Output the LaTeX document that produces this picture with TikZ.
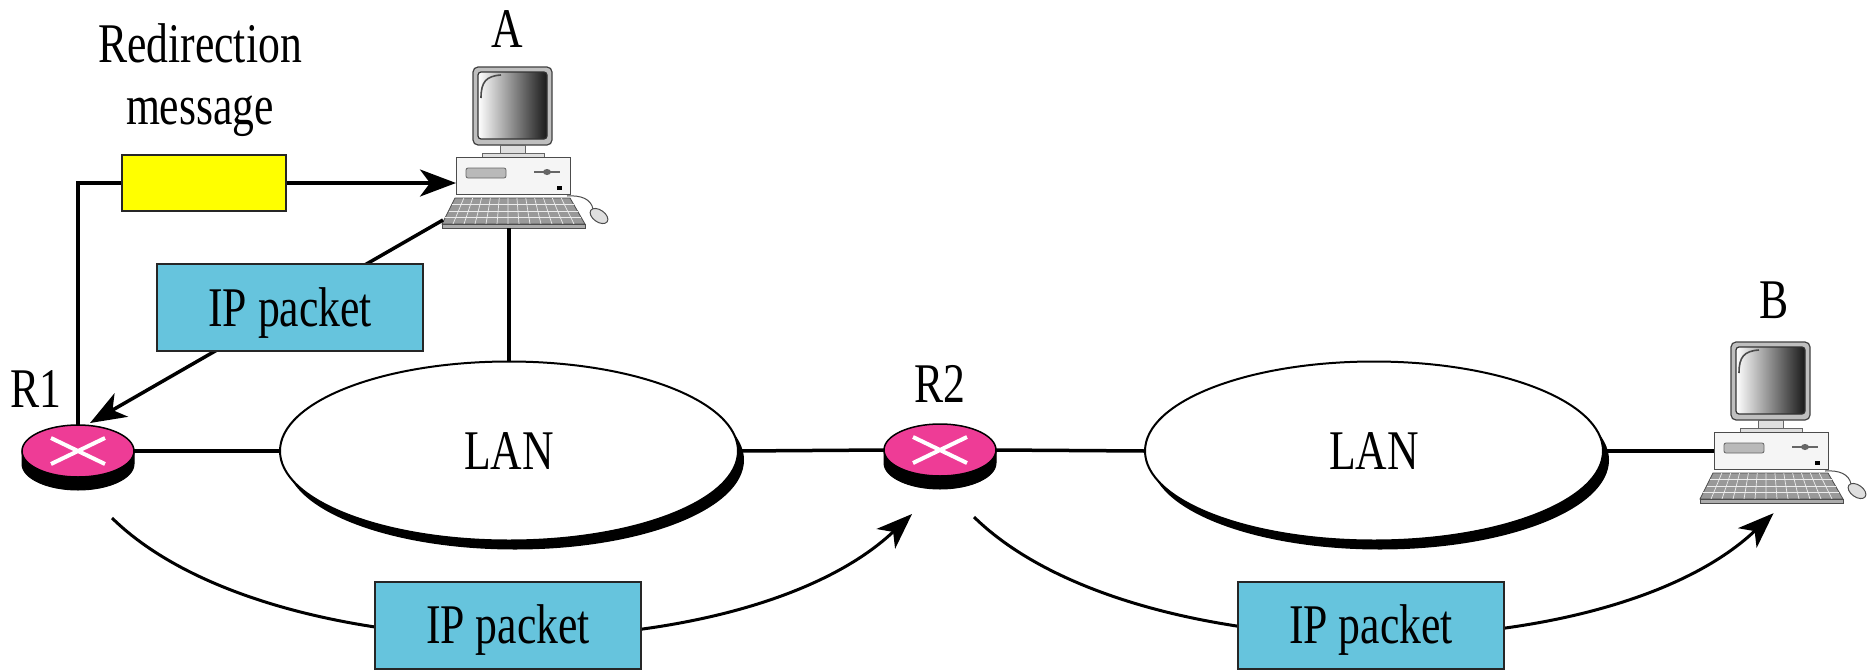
\documentclass[tikz,border=0pt]{standalone}
\usepackage{fontspec}
\setmainfont{Liberation Serif}[FakeStretch=0.78]
\usetikzlibrary{arrows.meta,calc,shapes.geometric}
\pgfdeclarelayer{bg}
\pgfsetlayers{bg,main}
\definecolor{routerpink}{HTML}{EE3C96}
\definecolor{packetblue}{HTML}{66C4DD}
\definecolor{msgyellow}{HTML}{FFFF00}

\tikzset{
  conn/.style={line width=3.5pt},
  flow/.style={line width=3pt},
  >={Stealth[length=36pt,width=27pt,inset=10pt]},
  rtr/.style={ellipse, minimum width=112pt, minimum height=52pt, inner sep=0pt,
    outer sep=0pt, fill=routerpink, draw=black, line width=1.5pt},
  lan/.style={ellipse, minimum width=458pt, minimum height=179pt, inner sep=0pt,
    outer sep=0pt, fill=white, draw=black, line width=2pt, text height=37pt, text depth=0pt,
    preaction={fill=black, transform canvas={shift={(6pt,-9pt)}}}},
  ipbox/.style={rectangle, minimum width=266pt, minimum height=87pt, inner sep=0pt,
    fill=packetblue, draw=black!85, line width=2pt, text height=37pt, text depth=0pt},
  msgbox/.style={rectangle, minimum width=164pt, minimum height=56pt, inner sep=0pt,
    fill=msgyellow, draw=black!85, line width=2pt},
  lbl/.style={inner sep=0pt},
  pcunit/.style={rectangle, minimum width=114pt, minimum height=37pt, inner sep=0pt,
    outer sep=0pt, fill=gray!8, draw=black!70, line width=1pt},
  computer/.pic={
    % monitor housing and screen
    \draw[fill=gray!50, draw=black!75, line width=1.2pt, rounded corners=5pt] (-40,-109) rectangle (39,-31);
    \shade[left color=white, middle color=gray!45, right color=black!90, rounded corners=3pt] (-35,-104) rectangle (34,-37);
    \draw[black!80, line width=1.2pt, rounded corners=3pt] (-35,-104) rectangle (34,-37);
    \draw[black!70, line width=1.6pt] (-32,-78) .. controls (-32,-94) and (-27,-100) .. (-12,-101);
    % neck and foot
    \draw[fill=gray!25, draw=black!60, line width=0.8pt] (-13,-31) rectangle (12,-22);
    \draw[fill=gray!25, draw=black!60, line width=0.8pt] (-31,-23) rectangle (31,-18);
    % system unit
    \node[pcunit] (-base) at (0,0) {};
    \draw[fill=gray!55, draw=black!60, line width=0.8pt, rounded corners=2pt] (-47,-8) rectangle (-7,2);
    \draw[black!60, line width=1.2pt] (21,-4) -- (47,-4);
    \fill[black!60] (34,-4) ellipse [x radius=4, y radius=3];
    \fill[black] (44,10) rectangle (49,14);
    % keyboard
    \draw[fill=gray!80, draw=black!70, line width=0.8pt] (-58,22) -- (57,22) -- (72,48) -- (-71,48) -- cycle;
    \foreach \k in {1,...,12}
      \draw[gray!15, line width=0.7pt] ({-58+\k*115/13},22) -- ({-71+\k*143/13},48);
    \foreach \t in {0.25,0.5,0.75}
      \draw[gray!15, line width=0.7pt] ({-58-13*\t},{22+26*\t}) -- ({57+15*\t},{22+26*\t});
    \draw[fill=gray!65, draw=black!70, line width=0.8pt] (-71,48) rectangle (72,52);
    \node[inner sep=0pt, minimum width=143pt, minimum height=30pt] (-kbd) at (0.5,37) {};
    \coordinate (-kl) at (-70,44);
    % mouse and cable
    \draw[black!70, line width=1pt] (54,20) .. controls (68,19) and (78,23) .. (80,33);
    \draw[fill=gray!25, draw=black!70, line width=1pt, rotate around={-35:(86,40)}] (86,40) ellipse [x radius=10, y radius=6];
  }
}

% cylinder body under a router top
\newcommand\routerbody[1]{%
  \begin{pgfonlayer}{bg}
    \filldraw[black, line width=1pt] (#1.west) -- ++(0,13)
      arc[start angle=180, end angle=0, x radius=56, y radius=26] -- (#1.east) -- cycle;
  \end{pgfonlayer}
  \draw[white, line width=4pt] ($(#1)+(-27,13)$) -- ($(#1)+(27,-13)$)
    ($(#1)+(-27,-13)$) -- ($(#1)+(27,13)$);
}

\begin{document}
\begin{tikzpicture}[x=1pt, y=-1pt, font=\fontsize{56}{62}\selectfont]
\begin{pgfonlayer}{bg}
  \fill[white] (0,0) rectangle (1871,670);
\end{pgfonlayer}

% routers
\node[rtr] (R1) at (78,451) {};
\routerbody{R1}
\node[rtr] (R2) at (940,450) {};
\routerbody{R2}
\node[lbl, anchor=base] (labR1) at (36,407) {R1};
\node[lbl, anchor=base] (labR2) at (940,402) {R2};

% networks
\node[lan] (L1) at (509,451) {LAN};
\node[lan] (L2) at (1374,451) {LAN};

% hosts
\pic (A) at (513,176) {computer};
\pic (B) at (1771,451) {computer};
\node[lbl, anchor=base] (labA) at (507,47) {A};
\node[lbl, anchor=base] (labB) at (1774,318) {B};

% redirection message from R1 to A
\node[msgbox] (msg) at (204,183) {};
\node[lbl, align=center] (labmsg) at (200,80) {Redirection\\message};
\draw[conn] (R1.north) -- (R1.north |- msg.west) -- (msg.west);
\draw[conn, ->] (msg.east) -- (msg.east -| A-base.west);

% packet from A to R1
\coordinate (r1in) at ($(R1.north)+(12,-2)$);
\draw[conn, ->] (A-kl) -- node[ipbox, pos=0.433] (ip0) {IP packet} (r1in);

% LAN attachments
\draw[conn] (R1.east) -- (L1.west);
\draw[conn] (L1.east) -- (R2.west);
\draw[conn] (R2.east) -- (L2.west);
\draw[conn] (L2.east) -- (B-base.west);
\draw[conn] (L1.north) -- (L1.north |- A-kbd.south);

% forwarded packets R1 -> R2 -> B
\node[ipbox] (ip1) at (508,625) {IP packet};
\node[ipbox] (ip2) at (1371,625) {IP packet};
\coordinate (r1out) at ($(R1)+(34,67)$);
\coordinate (r2in) at ($(R2)+(-28,64)$);
\coordinate (r2out) at ($(R2)+(34,67)$);
\coordinate (bin) at ($(B-kbd.south)+(2,10)$);
\begin{pgfonlayer}{bg}
  \draw[flow, ->] (r1out) .. controls +(160,157) and +(-170,161) .. (r2in);
  \draw[flow, ->] (r2out) .. controls +(160,157) and +(-170,161) .. (bin);
\end{pgfonlayer}

\pgfresetboundingbox
\useasboundingbox (0,0) rectangle (1871,670);
\end{tikzpicture}
\end{document}
